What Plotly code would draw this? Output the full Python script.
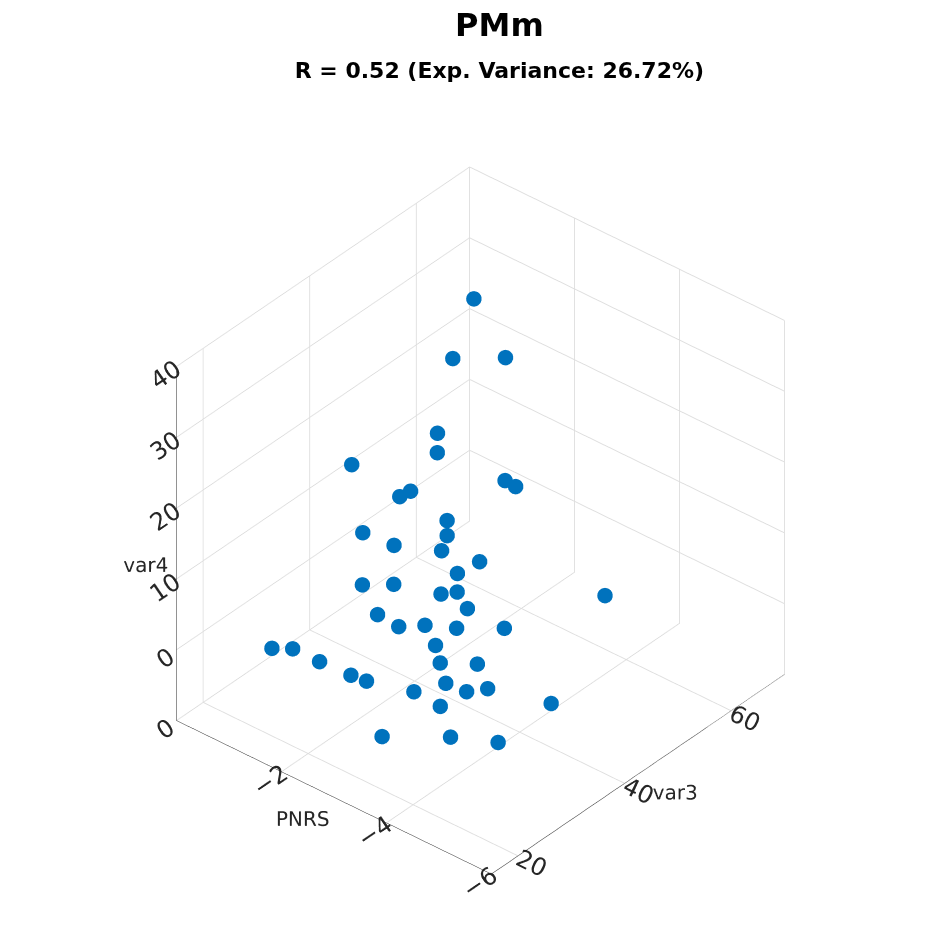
import plotly.graph_objects as go

pnrs = [-1.2,-0.8,-2.0,-1.5,-3.0,-2.5,-4.0,-3.5,-1.0,-2.2,-3.3,-4.5,-0.5,-1.8,-2.8,-3.8,-1.4,-2.6,-0.9,-3.1,
        -1.6,-2.4,-4.2,-0.7,-2.0,-2.9,-3.6,-0.6,-1.9,-2.1,-3.4,-4.8,-1.2,-2.7,-0.4,-3.9,-1.7,-1.0,-1.5,-4.1,
        -1.0,-2.5,-2.0,-3.2,-2.6]
var3 = [30,25,28,22,24,26,27,30,40,35,33,31,45,38,36,34,42,39,48,37,
        50,44,32,52,57,41,29,58,46,47,43,38,55,35,60,31,49,38,56,55,
        62,52,33,28,53]
var4 = [-5,-2,-3,2,-6,-1,-4,-3,0,1,-2,-5,3,4,0,2,6,5,8,3,
        4,2,1,6,27,3,4,8,5,2,1,-2,25,3,9,0,7,18,34,2,
        -8,14,3,-1,13]

fig = go.Figure(go.Scatter3d(
    x=var3, y=pnrs, z=var4, mode="markers",
    marker=dict(size=9, color="#0072BD", line=dict(width=0))))

def ax(title, rng, tv):
    return dict(showbackground=False, gridcolor="#dddddd", linecolor="#262626",
                tickfont=dict(size=17, color="#262626"), zeroline=False,
                title=dict(text=title, font=dict(size=20, color="#262626")),
                range=rng, tickvals=tv)

fig.update_layout(
    width=945, height=945, paper_bgcolor="white",
    font=dict(family="DejaVu Sans"),
    title=dict(text="<b>PMm</b><br><span style='font-size:22px'><b>R = 0.52 (Exp. Variance: 26.72%)</b></span>",
               x=0.52, y=0.97, font=dict(size=32, color="black")),
    margin=dict(l=20, r=20, t=100, b=20),
    scene=dict(
        xaxis=ax("var3", [15, 70], [20, 40, 60]),
        yaxis=ax("PNRS", [-6, 0], [-6, -4, -2, 0]),
        zaxis=ax("var4", [-10, 40], [0, 10, 20, 30, 40]),
        aspectmode="manual", aspectratio=dict(x=1.1, y=1, z=1.05),
        camera=dict(eye=dict(x=-1.3, y=-1.1, z=1.2), projection=dict(type="orthographic")),
    ),
    showlegend=False,
)
fig.write_html("out.html")
